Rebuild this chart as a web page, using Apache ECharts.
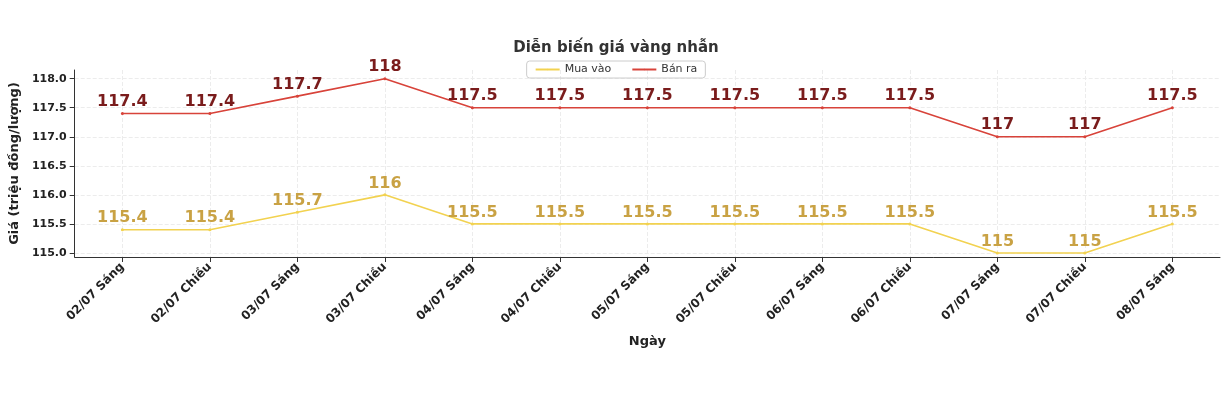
<!DOCTYPE html><html><head><meta charset="utf-8"><script src="https://cdn.jsdelivr.net/npm/echarts@6/dist/echarts.min.js"></script></head><body style="margin:0;background:#fff"><div id="c" style="width:1232px;height:402px"></div><script>
const categories=["02/07 Sáng","02/07 Chiều","03/07 Sáng","03/07 Chiều","04/07 Sáng","04/07 Chiều","05/07 Sáng","05/07 Chiều","06/07 Sáng","06/07 Chiều","07/07 Sáng","07/07 Chiều","08/07 Sáng"];
const muaVao=[115.4,115.4,115.7,116,115.5,115.5,115.5,115.5,115.5,115.5,115,115,115.5];
const banRa=[117.4,117.4,117.7,118,117.5,117.5,117.5,117.5,117.5,117.5,117,117,117.5];
const yTicks=[115.0,115.5,116.0,116.5,117.0,117.5,118.0];
const ch=echarts.init(document.getElementById('c'));
const F='DejaVu Sans';
function ser(name,data,color,lc){return{name,type:'line',data:data.map((v,i)=>[i,v]),symbol:'circle',symbolSize:3,showSymbol:true,lineStyle:{color,width:1.6},itemStyle:{color},
label:{show:true,position:'top',distance:2,color:lc,fontFamily:F,fontWeight:'bold',fontSize:16,formatter:p=>String(p.value[1])}};}
ch.setOption({animation:false,textStyle:{fontFamily:F},
title:{text:'Diễn biến giá vàng nhẫn',left:'center',top:36,textStyle:{fontFamily:F,fontSize:15,fontWeight:'bold',color:'#333'}},
legend:{top:61,left:'center',itemWidth:24,itemHeight:2,itemGap:20,borderColor:'#ccc',borderWidth:1,borderRadius:3,padding:[3,8],textStyle:{fontSize:11,color:'#333'},data:['Mua vào','Bán ra']},
grid:{left:68,right:12,top:70,bottom:145},
xAxis:{type:'value',min:-0.545,max:12.545,name:'Ngày',nameLocation:'middle',nameGap:78,nameTextStyle:{fontWeight:'bold',fontSize:13,color:'#222'},
axisLine:{onZero:false,lineStyle:{color:'#333'}},axisTick:{customValues:categories.map((c,i)=>i),lineStyle:{color:'#333'}},
axisLabel:{customValues:categories.map((c,i)=>i),rotate:45,fontWeight:'bold',fontSize:12,color:'#222',formatter:v=>categories[Math.round(v)]},
splitLine:{show:true,lineStyle:{type:'dashed',color:'#ececec'}}},
yAxis:{type:'value',min:114.93,max:118.15,name:'Giá (triệu đồng/lượng)',nameLocation:'middle',nameGap:48,nameTextStyle:{fontWeight:'bold',fontSize:13,color:'#222'},
axisLine:{show:true,onZero:false,lineStyle:{color:'#333'}},axisTick:{show:true,customValues:yTicks,lineStyle:{color:'#333'}},
axisLabel:{customValues:yTicks,fontWeight:'bold',fontSize:11,color:'#222',formatter:v=>v.toFixed(1)},
splitLine:{show:true,lineStyle:{type:'dashed',color:'#ececec'}}},
series:[ser('Mua vào',muaVao,'#f2d250','#c9a244'),ser('Bán ra',banRa,'#d8433a','#7a1c1c')]});
</script></body></html>
